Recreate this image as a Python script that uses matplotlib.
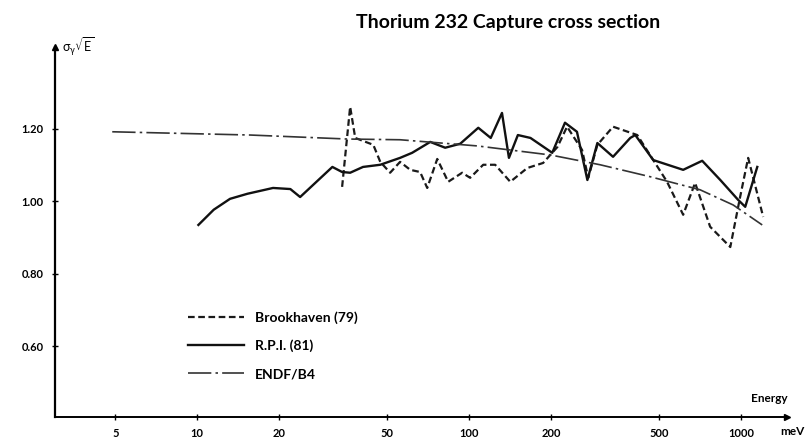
"""
Thorium 232 capture cross section (sigma_gamma * sqrt(E)) vs energy
"""

import matplotlib
matplotlib.use("Agg")
import matplotlib.pyplot as plt

plt.rcParams['font.family'] = ['Lato', 'DejaVu Sans']

# ---- data ----
endf_energy = [4.87, 15.7, 35.6, 55.7, 107, 199, 303, 463, 706, 935, 1195]
endf_value = [1.192, 1.183, 1.172, 1.170, 1.153, 1.128, 1.101, 1.068, 1.032, 0.990, 0.935]

rpi_energy = [10.1, 11.5, 13.2, 15.3, 19.0, 22.0, 23.9, 31.4, 34.1, 36.5, 40.7, 47.1,
              55.7, 61.7, 71.9, 81.6, 92.7, 108, 120, 132, 140, 151, 168, 202, 225,
              249, 272, 296, 338, 391, 408, 475, 612, 719, 838, 975, 1035, 1146]
rpi_value = [0.935, 0.977, 1.007, 1.021, 1.037, 1.034, 1.012, 1.095, 1.081, 1.079, 1.095, 1.101,
             1.120, 1.134, 1.164, 1.148, 1.159, 1.203, 1.175, 1.244, 1.120, 1.183, 1.175, 1.134, 1.217,
             1.192, 1.059, 1.161, 1.123, 1.175, 1.183, 1.114, 1.087, 1.112, 1.059, 1.004, 0.985, 1.095]

bnl_energy = [34.1, 36.5, 38.1, 44.4, 47.1, 51.2, 55.7, 60.7, 66.0, 70.1, 76.3, 83.7,
              94.2, 100.8, 112.6, 124.6, 141.6, 163.5, 187, 211, 229, 260, 274, 296,
              338, 415, 475, 534, 612, 677, 769, 912, 991, 1061, 1205]
bnl_value = [1.040, 1.261, 1.175, 1.156, 1.109, 1.079, 1.109, 1.087, 1.081, 1.037, 1.117, 1.054,
             1.079, 1.065, 1.101, 1.101, 1.054, 1.092, 1.106, 1.150, 1.206, 1.142, 1.065, 1.156,
             1.206, 1.183, 1.114, 1.054, 0.963, 1.051, 0.930, 0.874, 1.012, 1.120, 0.957]

x_ticks = [5, 10, 20, 50, 100, 200, 500, 1000]
x_ticklabels = ['5', '10', '20', '50', '100', '200', '500', '1000']
y_ticks = [0.60, 0.80, 1.00, 1.20]
y_ticklabels = ['0.60', '0.80', '1.00', '1.20']

# ---- figure ----
fig = plt.figure(figsize=(8.09, 4.43), dpi=100)
ax = fig.add_axes([0.068, 0.059, 0.905, 0.835])

ax.plot(bnl_energy, bnl_value, color='#1a1a1a', lw=1.6,
        linestyle=(0, (3.0, 1.6)), label='Brookhaven (79)')
ax.plot(rpi_energy, rpi_value, color='#111111', lw=1.7,
        linestyle='-', label='R.P.I. (81)')
ax.plot(endf_energy, endf_value, color='#333333', lw=1.2,
        linestyle=(0, (14, 2.5, 1.5, 2.5)), label='ENDF/B4')

ax.set_xscale('log')
ax.set_xlim(3.0, 1476)
ax.set_ylim(0.4055, 1.426)

ax.set_xticks(x_ticks)
ax.set_xticklabels(x_ticklabels, fontsize=8, fontweight='bold')
ax.xaxis.set_minor_locator(matplotlib.ticker.NullLocator())
ax.set_yticks(y_ticks)
ax.set_yticklabels(y_ticklabels, fontsize=8, fontweight='bold')
ax.tick_params(axis='both', direction='inout', length=4, width=1, pad=6)

# spines with arrow heads
ax.spines['top'].set_visible(False)
ax.spines['right'].set_visible(False)
ax.spines['left'].set_linewidth(1.6)
ax.spines['bottom'].set_linewidth(1.4)
ax.plot(1, 0, marker='>', color='k', markersize=5, transform=ax.transAxes, clip_on=False)
ax.plot(0, 1, marker='^', color='k', markersize=5, transform=ax.transAxes, clip_on=False)

# axis labels placed like the original
ax.text(0.01, 1.0, r'$\mathregular{\sigma_\gamma\sqrt{E}}$', transform=ax.transAxes,
        fontsize=9, ha='left', va='center')
ax.text(1.0, 0.035, 'Energy', transform=ax.transAxes, fontsize=8.5,
        fontweight='bold', ha='right', va='bottom')
fig.text(0.995, 0.025, 'meV', fontsize=8.5, fontweight='bold', ha='right', va='center')

fig.text(0.628, 0.95, 'Thorium 232 Capture cross section', fontsize=14,
         fontweight='bold', ha='center', va='center')

leg = ax.legend(loc='upper left', bbox_to_anchor=(0.165, 0.32), frameon=False,
                prop={'size': 10, 'weight': 'bold'}, handlelength=4.0,
                labelspacing=1.15, handletextpad=0.8)

plt.savefig('out.png', dpi=100, facecolor='white')
plt.close()
